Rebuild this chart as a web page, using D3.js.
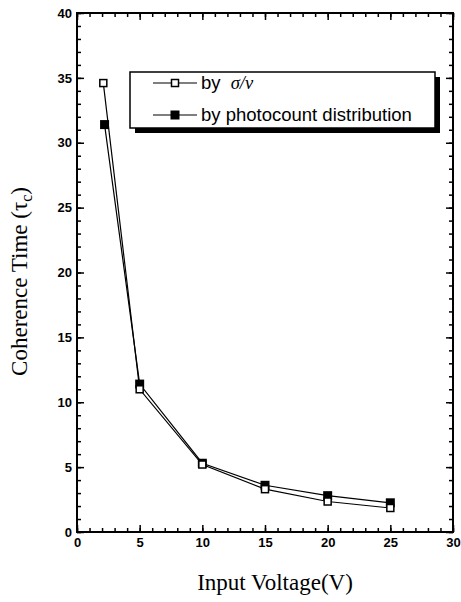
<!DOCTYPE html>
<html>
<head>
<meta charset="utf-8">
<script src="https://cdn.jsdelivr.net/npm/d3@7"></script>
<style>
  body { margin: 0; background: #fff; }
  .tick text { font-family: "Liberation Sans", Arial, sans-serif; font-weight: bold; font-size: 13px; fill: #000; }
  .axis path, .axis line { stroke: #000; }
</style>
</head>
<body>
<div id="chart"></div>
<script>

// data
var xTicks = [0, 5, 10, 15, 20, 25, 30];
var yTicks = [0, 5, 10, 15, 20, 25, 30, 35, 40];

var voltSigma = [2.1, 5, 10, 15, 20, 25];
var tauSigma = [34.6, 11.0, 5.2, 3.3, 2.35, 1.85];

var voltPhoto = [2.2, 5, 10, 15, 20, 25];
var tauPhoto = [31.4, 11.4, 5.3, 3.6, 2.8, 2.25];

var seriesNames = ["by ", "by photocount distribution"];

var margin = {top: 13, right: 8, bottom: 70, left: 77},
    width = 461 - margin.left - margin.right,
    height = 602 - margin.top - margin.bottom;

var svg = d3.select("#chart").append("svg")
    .attr("width", 461)
    .attr("height", 602)
  .append("g")
    .attr("transform", "translate(" + margin.left + "," + margin.top + ")");

var x = d3.scaleLinear().domain([0, 30]).range([0, width]);
var y = d3.scaleLinear().domain([0, 40]).range([height, 0]);

var minorX = d3.range(0, 31, 1), minorY = d3.range(0, 41, 1);

// minor ticks, all four sides, pointing in
svg.append("g").attr("class", "axis")
    .attr("transform", "translate(0," + height + ")")
    .call(d3.axisBottom(x).tickValues(minorX).tickSize(-4).tickFormat(""));
svg.append("g").attr("class", "axis")
    .call(d3.axisTop(x).tickValues(minorX).tickSize(-4).tickFormat(""));
svg.append("g").attr("class", "axis")
    .call(d3.axisLeft(y).tickValues(minorY).tickSize(-4).tickFormat(""));
svg.append("g").attr("class", "axis")
    .attr("transform", "translate(" + width + ",0)")
    .call(d3.axisRight(y).tickValues(minorY).tickSize(-4).tickFormat(""));

// major ticks
svg.append("g").attr("class", "axis")
    .attr("transform", "translate(0," + height + ")")
    .call(d3.axisBottom(x).tickValues(xTicks).tickSize(-7).tickPadding(6));
svg.append("g").attr("class", "axis")
    .call(d3.axisTop(x).tickValues(xTicks).tickSize(-7).tickFormat(""));
svg.append("g").attr("class", "axis")
    .call(d3.axisLeft(y).tickValues(yTicks).tickSize(-7).tickPadding(5));
svg.append("g").attr("class", "axis")
    .attr("transform", "translate(" + width + ",0)")
    .call(d3.axisRight(y).tickValues(yTicks).tickSize(-7).tickFormat(""));

svg.selectAll(".axis line").attr("stroke-width", 1.5);
svg.selectAll(".axis path.domain").remove();

// frame
svg.append("rect")
    .attr("width", width)
    .attr("height", height)
    .attr("fill", "none")
    .attr("stroke", "#000")
    .attr("stroke-width", 2);

// lines
var line = d3.line()
    .x(function(d) { return x(d[0]); })
    .y(function(d) { return y(d[1]); });

var sigmaPts = d3.zip(voltSigma, tauSigma);
var photoPts = d3.zip(voltPhoto, tauPhoto);

svg.append("path").datum(photoPts)
    .attr("d", line).attr("fill", "none").attr("stroke", "#000").attr("stroke-width", 1.2);
svg.append("path").datum(sigmaPts)
    .attr("d", line).attr("fill", "none").attr("stroke", "#000").attr("stroke-width", 1.2);

svg.selectAll(".pt-photo").data(photoPts).enter()
  .append("rect")
    .attr("class", "pt-photo")
    .attr("x", function(d) { return x(d[0]) - 4.5; })
    .attr("y", function(d) { return y(d[1]) - 4.5; })
    .attr("width", 9).attr("height", 9)
    .attr("fill", "#000");

svg.selectAll(".pt-sigma").data(sigmaPts).enter()
  .append("rect")
    .attr("class", "pt-sigma")
    .attr("x", function(d) { return x(d[0]) - 3.5; })
    .attr("y", function(d) { return y(d[1]) - 3.5; })
    .attr("width", 7).attr("height", 7)
    .attr("fill", "#fff").attr("stroke", "#000").attr("stroke-width", 1.5);

// axis titles
svg.append("text")
    .attr("x", width / 2 + 10)
    .attr("y", height + 58)
    .attr("text-anchor", "middle")
    .attr("fill", "#000")
    .style("font-family", "'Liberation Serif', 'Times New Roman', serif")
    .style("font-size", "23px")
    .text("Input Voltage(V)");

var yt = svg.append("text")
    .attr("transform", "translate(-50," + (height / 2 + 9) + ") rotate(-90)")
    .attr("text-anchor", "middle")
    .attr("fill", "#000")
    .style("font-family", "'Liberation Serif', 'Times New Roman', serif")
    .style("font-size", "23px");
yt.append("tspan").text("Coherence Time (\u03c4");
yt.append("tspan").attr("dy", 5).style("font-size", "16px").text("c");
yt.append("tspan").attr("dy", -5).text(")");

// legend
var lg = svg.append("g").attr("transform", "translate(" + (130 - margin.left) + "," + (72 - margin.top) + ")");
lg.append("rect").attr("x", 5).attr("y", 5).attr("width", 305).attr("height", 56).attr("fill", "#000");
lg.append("rect").attr("width", 305).attr("height", 56)
    .attr("fill", "#fff").attr("stroke", "#000").attr("stroke-width", 1.5);

var rows = [11, 43];
rows.forEach(function(ry, i) {
  lg.append("line").attr("x1", 23).attr("x2", 67).attr("y1", ry).attr("y2", ry)
      .attr("stroke", "#000").attr("stroke-width", 1.2);
  if (i === 0) {
    lg.append("rect").attr("x", 41.5).attr("y", ry - 3.5).attr("width", 7).attr("height", 7)
        .attr("fill", "#fff").attr("stroke", "#000").attr("stroke-width", 1.5);
  } else {
    lg.append("rect").attr("x", 40.5).attr("y", ry - 4.5).attr("width", 9).attr("height", 9)
        .attr("fill", "#000");
  }
  var t = lg.append("text")
      .attr("x", 71).attr("y", ry + 6)
      .attr("fill", "#000")
      .style("font-family", "'Liberation Sans', Arial, sans-serif")
      .style("font-size", "18.5px")
      .text(seriesNames[i]);
  if (i === 0) {
    t.append("tspan")
        .attr("dx", 5)
        .style("font-family", "'Liberation Serif', 'Times New Roman', serif")
        .style("font-style", "italic")
        .text("\u03c3/\u03bd");
  }
});

</script>
</body>
</html>
